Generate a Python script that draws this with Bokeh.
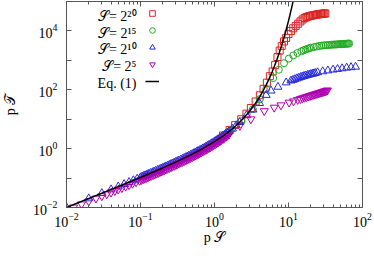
from bokeh.plotting import figure
from bokeh.models import (FixedTicker, LogAxis, Legend, LegendItem, Label, Range1d,
                          CustomJSTickFormatter)
from bokeh.embed import file_html
from bokeh.resources import INLINE

# ---- data ----
eq_x = [0.01, 0.02, 0.05, 0.1, 0.2, 0.3, 0.5, 0.7, 1.0, 1.25, 1.5, 1.75, 2.0, 2.5, 3.0, 3.5, 4.0,
        4.5, 5.0, 5.5, 6.0, 6.5, 7.0, 7.5, 8.0, 8.5, 9.0, 9.5, 10.0, 10.5, 11.0, 11.5]
eq_y = [0.01005, 0.0202, 0.0513, 0.105, 0.221, 0.35, 0.649, 1.014, 1.718, 2.49, 3.48, 4.75, 6.39,
        11.18, 19.09, 32.1, 53.6, 89.0, 147.4, 243.7, 402.4, 664.1, 1096, 1807, 2980, 4914, 8102,
        13360, 22030, 36310, 59870, 98710]

s20_x = [1.3, 1.6, 1.9, 2.3, 2.7, 3.1, 3.6, 4.1, 4.6, 5.1, 5.6, 6.1, 6.6, 7.1, 7.6, 8.1, 8.7, 9.3,
         10.0, 10.8, 11.6, 12.5, 13.5, 14.5, 15.5, 16.5, 17.5, 18.5, 19.5, 20.5, 21.5, 22.5, 23.5,
         24.5, 25.5, 26.5, 27.5, 28.5, 29.5, 30.5, 31.5]
s20_y = [2.8, 4.3, 6.3, 10.0, 15.5, 24, 40, 65, 108, 175, 290, 420, 700, 1300, 2150, 3100, 4400,
         5800, 7800, 10000, 12300, 14800, 17500, 21000, 24500, 27500, 29500, 31000, 32000, 33000,
         34000, 34800, 35500, 36200, 36800, 37400, 37900, 38300, 38700, 39000, 39300]

s15_x = [1.1, 1.2, 1.3, 1.4, 1.5, 1.6, 1.7, 2.3, 3.3, 4.1, 5.0, 6.2, 7.4, 8.7, 10.1, 11.6, 13.2,
         14.9, 16, 17, 18, 19, 20, 22, 24, 26, 28, 30, 32, 34, 36, 38, 40, 42, 44, 46, 48, 50, 52,
         54, 56, 58, 60, 62, 64, 66]
s15_y = [2.0, 2.3, 2.65, 3.05, 3.5, 3.95, 4.5, 8.5, 22, 48, 105, 250, 480, 800, 1150, 1480, 1780,
         2040, 2190, 2340, 2455, 2570, 2690, 2820, 2950, 3090, 3160, 3240, 3270, 3310, 3350, 3390,
         3430, 3450, 3470, 3510, 3530, 3550, 3570, 3600, 3630, 3650, 3670, 3690, 3720, 3730]

s10_x = [0.01, 0.02, 0.03, 0.04, 0.05, 0.06, 0.07, 0.08, 0.09, 0.1, 0.11, 0.12, 0.13, 0.145, 0.16,
         0.18, 0.2, 0.22, 0.245, 0.27, 0.3, 0.33, 0.37, 0.41, 0.45, 0.5, 0.55, 0.6, 0.66, 0.73,
         0.8, 0.88, 0.97, 1.07, 1.18, 1.3, 1.43, 1.57, 1.75, 1.97, 2.19, 2.7, 3.3, 4.06, 4.99,
         5.8, 7.2, 9.3, 10.8, 11.5, 12.2, 13, 13.8, 14.6, 15.4, 16.2, 17, 18, 19, 20, 21, 22, 23,
         24.7, 29, 34, 40, 46, 53, 61, 70, 80.5]
s10_y = [0.01005, 0.0202, 0.0305, 0.0408, 0.0513, 0.0618, 0.0725, 0.0833, 0.0942, 0.105, 0.116,
         0.127, 0.139, 0.156, 0.174, 0.197, 0.221, 0.246, 0.278, 0.31, 0.35, 0.391, 0.448, 0.507,
         0.568, 0.649, 0.733, 0.822, 0.935, 1.075, 1.226, 1.411, 1.638, 1.915, 2.254, 2.669,
         3.18, 3.807, 4.755, 6.17, 7.93, 13.5, 21, 35, 66, 93, 125, 176, 204, 215, 228, 242, 255,
         268, 280, 292, 303, 315, 327, 338, 348, 358, 368, 390, 420, 450, 480, 505, 530, 560,
         580, 600]
s10_x_more = [0.105, 0.115, 0.125, 0.137, 0.152, 0.17, 0.19, 0.21, 0.232, 0.258, 0.285, 0.315,
              0.35, 0.39, 0.43, 0.475, 0.525, 0.575, 0.63, 0.695, 0.765, 0.84, 0.925, 1.02, 1.12,
              1.24, 1.36, 1.5]
s10_y_more = [0.1107, 0.1219, 0.1331, 0.1468, 0.1642, 0.1853, 0.2092, 0.2337, 0.2611, 0.2943,
              0.3298, 0.3703, 0.4191, 0.477, 0.5373, 0.6081, 0.6905, 0.7771, 0.8776, 1.0037,
              1.149, 1.316, 1.522, 1.773, 2.065, 2.455, 2.896, 3.482]

s5_x = [0.0125, 0.016, 0.02, 0.025, 0.03, 0.035, 0.04, 0.045, 0.05, 0.056, 0.063, 0.07, 0.078,
        0.087, 0.097, 0.108, 0.12, 0.133, 0.148, 0.165, 0.183, 0.2, 0.22, 0.245, 0.27, 0.3, 0.33,
        0.37, 0.41, 0.45, 0.5, 0.55, 0.6, 0.66, 0.73, 0.8, 0.88, 0.97, 1.07, 1.18, 1.3, 1.43,
        1.57, 2.2, 3.1, 4.7, 6.4, 7.9, 10.2, 11.7, 13.3, 14.5, 15.5, 16.5, 17.5, 18.5, 19.5,
        20.5, 21.5, 22.5, 23.5, 24.5, 25.5, 26.5, 27.5, 28.5, 29.5, 30.5, 31.5, 32.5, 33.6]
s5_y = [0.0101, 0.0129, 0.0162, 0.0203, 0.0244, 0.0285, 0.0326, 0.0368, 0.041, 0.0461, 0.052,
        0.058, 0.065, 0.0727, 0.0815, 0.0913, 0.102, 0.114, 0.128, 0.143, 0.161, 0.177, 0.197,
        0.222, 0.248, 0.28, 0.313, 0.358, 0.405, 0.454, 0.519, 0.586, 0.657, 0.748, 0.86, 0.98,
        1.13, 1.31, 1.53, 1.8, 2.13, 2.54, 3.05, 6.0, 10, 19, 25, 30, 37, 41, 46, 49, 52, 54.5,
        57, 59.5, 62, 64.5, 67, 69.5, 72, 74, 76.5, 79, 81, 83.5, 86, 88, 90.5, 93, 96]
s5_x_more = [0.102, 0.114, 0.126, 0.14, 0.156, 0.174, 0.19, 0.21, 0.232, 0.258, 0.285, 0.315,
             0.35, 0.39, 0.43, 0.475, 0.525, 0.575, 0.63, 0.695, 0.765, 0.84, 0.925, 1.02, 1.12,
             1.24, 1.36, 1.5]
s5_y_more = [0.0859, 0.0966, 0.1074, 0.1202, 0.135, 0.1521, 0.1674, 0.187, 0.2089, 0.2354,
             0.2638, 0.2962, 0.3353, 0.3816, 0.4298, 0.4865, 0.5524, 0.6217, 0.7021, 0.803,
             0.9192, 1.053, 1.2175, 1.4186, 1.652, 1.964, 2.317, 2.785]

legend_labels = ["\U0001D4AE= 2\u00b2\u2070", "\U0001D4AE= 2\u00b9\u2075",
                 "\U0001D4AE= 2\u00b9\u2070", "\U0001D4AE= 2\u2075", "Eq. (1)"]
x_label = "p \U0001D4AE"
y_label = "p \U0001D4AF"
x_ticks = [1e-2, 1e-1, 1e0, 1e1, 1e2]
y_ticks = [1e-2, 1e0, 1e2, 1e4]
y_minor = [1e-1, 1e1, 1e3]
x_minor = [k * 10.0 ** n for n in range(-2, 2) for k in range(2, 10)]

RED, GREEN, BLUE, MAG = "#dd2222", "#22aa22", "#2b2bdd", "#b000b0"
FONT = "Liberation Serif"
AX = "#555555"

p = figure(width=374, height=258, x_axis_type="log", y_axis_type="log",
           x_range=Range1d(1e-2, 1e2), y_range=Range1d(1e-2, 1e5),
           output_backend="svg", toolbar_location=None,
           min_border_left=64, min_border_right=12, min_border_top=1, min_border_bottom=51)
p.xgrid.visible = False
p.ygrid.visible = False
p.outline_line_color = AX
p.background_fill_color = "white"

bottom = p.below[0]
left = p.left[0]

xt = FixedTicker(ticks=x_ticks, minor_ticks=x_minor)
yt = FixedTicker(ticks=y_ticks, minor_ticks=y_minor)
bottom.ticker = xt
left.ticker = yt

blank = CustomJSTickFormatter(code="return ''")
top = LogAxis(ticker=xt, formatter=blank)
right = LogAxis(ticker=yt, formatter=blank)
p.add_layout(top, "above")
p.add_layout(right, "right")

for ax in [bottom, left, top, right]:
    ax.axis_line_color = AX
    ax.major_tick_line_color = AX
    ax.minor_tick_line_color = AX
    ax.major_tick_in = 5
    ax.major_tick_out = 0
    ax.minor_tick_in = 3
    ax.minor_tick_out = 0
    ax.major_label_text_font = FONT
    ax.major_label_text_font_size = "14px"
    ax.major_label_text_color = "black"
    ax.axis_label_text_font = FONT
    ax.axis_label_text_font_style = "normal"
    ax.axis_label_text_font_size = "14px"
    ax.axis_label_text_color = "black"

for ax in [left, right]:
    ax.minor_tick_in = 5

for ax in [top, right]:
    ax.major_label_standoff = 0

bottom.major_label_standoff = 5
bottom.axis_label = x_label
bottom.axis_label_standoff = 0
left.major_label_standoff = 9
left.axis_label = y_label
left.axis_label_standoff = 12

r20 = p.scatter(s20_x, s20_y, marker="square", size=7, fill_color=None, line_color=RED, line_width=1)
r15 = p.scatter(s15_x, s15_y, marker="circle", size=7, fill_color=None, line_color=GREEN, line_width=1)
r10 = p.scatter(s10_x + s10_x_more, s10_y + s10_y_more, marker="triangle", size=8,
                fill_color=None, line_color=BLUE, line_width=1)
r5 = p.scatter(s5_x + s5_x_more, s5_y + s5_y_more, marker="inverted_triangle", size=8,
               fill_color=None, line_color=MAG, line_width=1)
req = p.line(eq_x, eq_y, line_color="black", line_width=1.5)

items = [LegendItem(label=" ", renderers=[r]) for r in [r20, r15, r10, r5, req]]
leg = Legend(items=items, location=(79, 118), padding=0, margin=0, spacing=1,
             glyph_width=14, glyph_height=16, label_standoff=0, label_width=0, label_height=16,
             label_text_font_size="8px", border_line_alpha=0, background_fill_alpha=0)
p.add_layout(leg, "center")

row_y = [191, 174, 158, 141, 124]
for txt, yy in zip(legend_labels, row_y):
    p.add_layout(Label(x=70, y=yy, x_units="screen", y_units="screen", text=txt,
                       text_align="right", text_baseline="middle", text_font=FONT,
                       text_font_size="14px", text_color="black"))

open("out.html", "w").write(file_html(p, INLINE))
